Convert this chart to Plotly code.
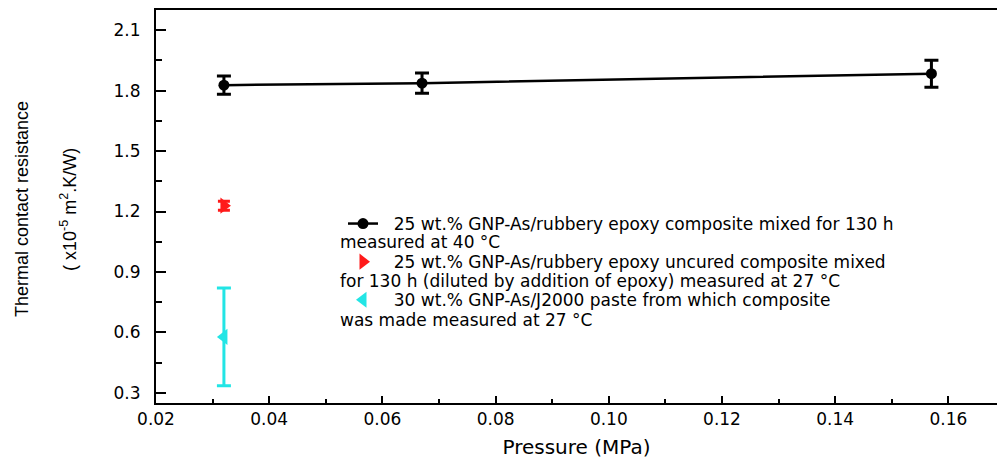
import plotly.graph_objects as go

# Data
p_black = [0.032, 0.067, 0.157]
r_black = [1.827, 1.837, 1.884]
e_black = [0.045, 0.050, 0.067]

p_red = [0.032]
r_red = [1.229]
e_red = [0.022]

p_cyan = [0.032]
r_cyan = [0.578]
e_cyan = [0.243]

name_black = "25 wt.% GNP-As/rubbery epoxy composite mixed for 130 h"
name_red = "25 wt.% GNP-As/rubbery epoxy uncured composite mixed"
name_cyan = "30 wt.% GNP-As/J2000 paste from which composite"
cont_black = "measured at 40 °C"
cont_red = "for 130 h (diluted by addition of epoxy) measured at 27 °C"
cont_cyan = "was made measured at 27 °C"

x_ticks = [0.02, 0.04, 0.06, 0.08, 0.10, 0.12, 0.14, 0.16]
y_ticks = [0.3, 0.6, 0.9, 1.2, 1.5, 1.8, 2.1]

TXT = "DejaVu Sans"
NB = "\u00a0\u00a0"
LEG_SIZE = 17

fig = go.Figure()
fig.add_trace(go.Scatter(
    x=p_black, y=r_black, mode="lines+markers", name=NB + name_black,
    line=dict(color="black", width=2.5),
    marker=dict(symbol="circle", size=11, color="black"),
    error_y=dict(type="data", array=e_black, visible=True, color="black", thickness=3, width=7),
    legendgroup="a",
))
fig.add_trace(go.Scatter(
    x=p_red, y=r_red, mode="markers", name=NB + name_red,
    marker=dict(symbol="triangle-right", size=14, color="#ff1a1a"),
    error_y=dict(type="data", array=e_red, visible=True, color="#ff1a1a", thickness=3, width=6),
    legendgroup="b",
))
fig.add_trace(go.Scatter(
    x=p_cyan, y=r_cyan, mode="markers", name=NB + name_cyan,
    marker=dict(symbol="triangle-left", size=14, color="#22e5e5"),
    error_y=dict(type="data", array=e_cyan, visible=True, color="#22e5e5", thickness=3, width=7),
    legendgroup="c",
))

ML, MR, MT, MB = 156, 0, 10, 59
W, H = 997, 462
PW, PH = W - ML - MR, H - MT - MB

def px_x(px):
    return (px - ML) / PW

def px_y(py):
    return (H - MB - py) / PH

annotations = []
for txt, yb in [(cont_black, 242), (cont_red, 281), (cont_cyan, 320)]:
    annotations.append(dict(
        text=txt, xref="paper", yref="paper", x=px_x(338), y=px_y(yb),
        xanchor="left", yanchor="middle", showarrow=False,
        font=dict(family=TXT, size=LEG_SIZE, color="black"),
    ))

annotations.append(dict(
    text="Thermal contact resistance", xref="paper", yref="paper",
    x=0, y=px_y(209), xshift=-(ML - 22), xanchor="center", yanchor="middle",
    textangle=-90, showarrow=False,
    font=dict(family="Liberation Sans", size=18, color="black"),
))
annotations.append(dict(
    text="( x10<sup>-5</sup> m<sup>2</sup>.K/W)", xref="paper", yref="paper",
    x=0, y=px_y(210), xshift=-(ML - 68), xanchor="center", yanchor="middle",
    textangle=-90, showarrow=False,
    font=dict(family="Liberation Sans", size=18, color="black"),
))

fig.update_layout(
    width=W, height=H,
    margin=dict(l=ML, r=MR, t=MT, b=MB, pad=0),
    paper_bgcolor="white", plot_bgcolor="white",
    showlegend=True,
    legend=dict(
        x=px_x(343), y=px_y(206), xanchor="left", yanchor="top",
        bgcolor="rgba(0,0,0,0)", borderwidth=0,
        font=dict(family=TXT, size=LEG_SIZE, color="black"),
        tracegroupgap=13, itemwidth=30, traceorder="grouped",
    ),
    annotations=annotations,
    xaxis=dict(
        range=[0.02, 0.02 + PW / 5660.0],
        tickmode="array", tickvals=x_ticks, ticktext=[f"{v:.2f}" for v in x_ticks],
        ticks="inside", ticklen=7, tickwidth=2, tickcolor="black",
        minor=dict(dtick=0.01, tick0=0.02, ticks="inside", ticklen=4, tickwidth=2, tickcolor="black"),
        showline=True, linecolor="black", linewidth=2, mirror=True,
        showgrid=False, zeroline=False,
        tickfont=dict(family=TXT, size=17, color="black"),
        title=dict(text="Pressure (MPa)", font=dict(family=TXT, size=20, color="black"), standoff=12),
    ),
    yaxis=dict(
        range=[0.25, 2.2],
        tickmode="array", tickvals=y_ticks, ticktext=[f"{v:.1f}" for v in y_ticks],
        ticks="inside", ticklen=10, tickwidth=2, tickcolor="black",
        minor=dict(dtick=0.15, tick0=0.15, ticks="inside", ticklen=6, tickwidth=2, tickcolor="black"),
        showline=True, linecolor="black", linewidth=2, mirror=False,
        showgrid=False, zeroline=False,
        tickfont=dict(family=TXT, size=17, color="black"),
        ticklabelstandoff=10,
    ),
)

fig.write_html("out.html")
